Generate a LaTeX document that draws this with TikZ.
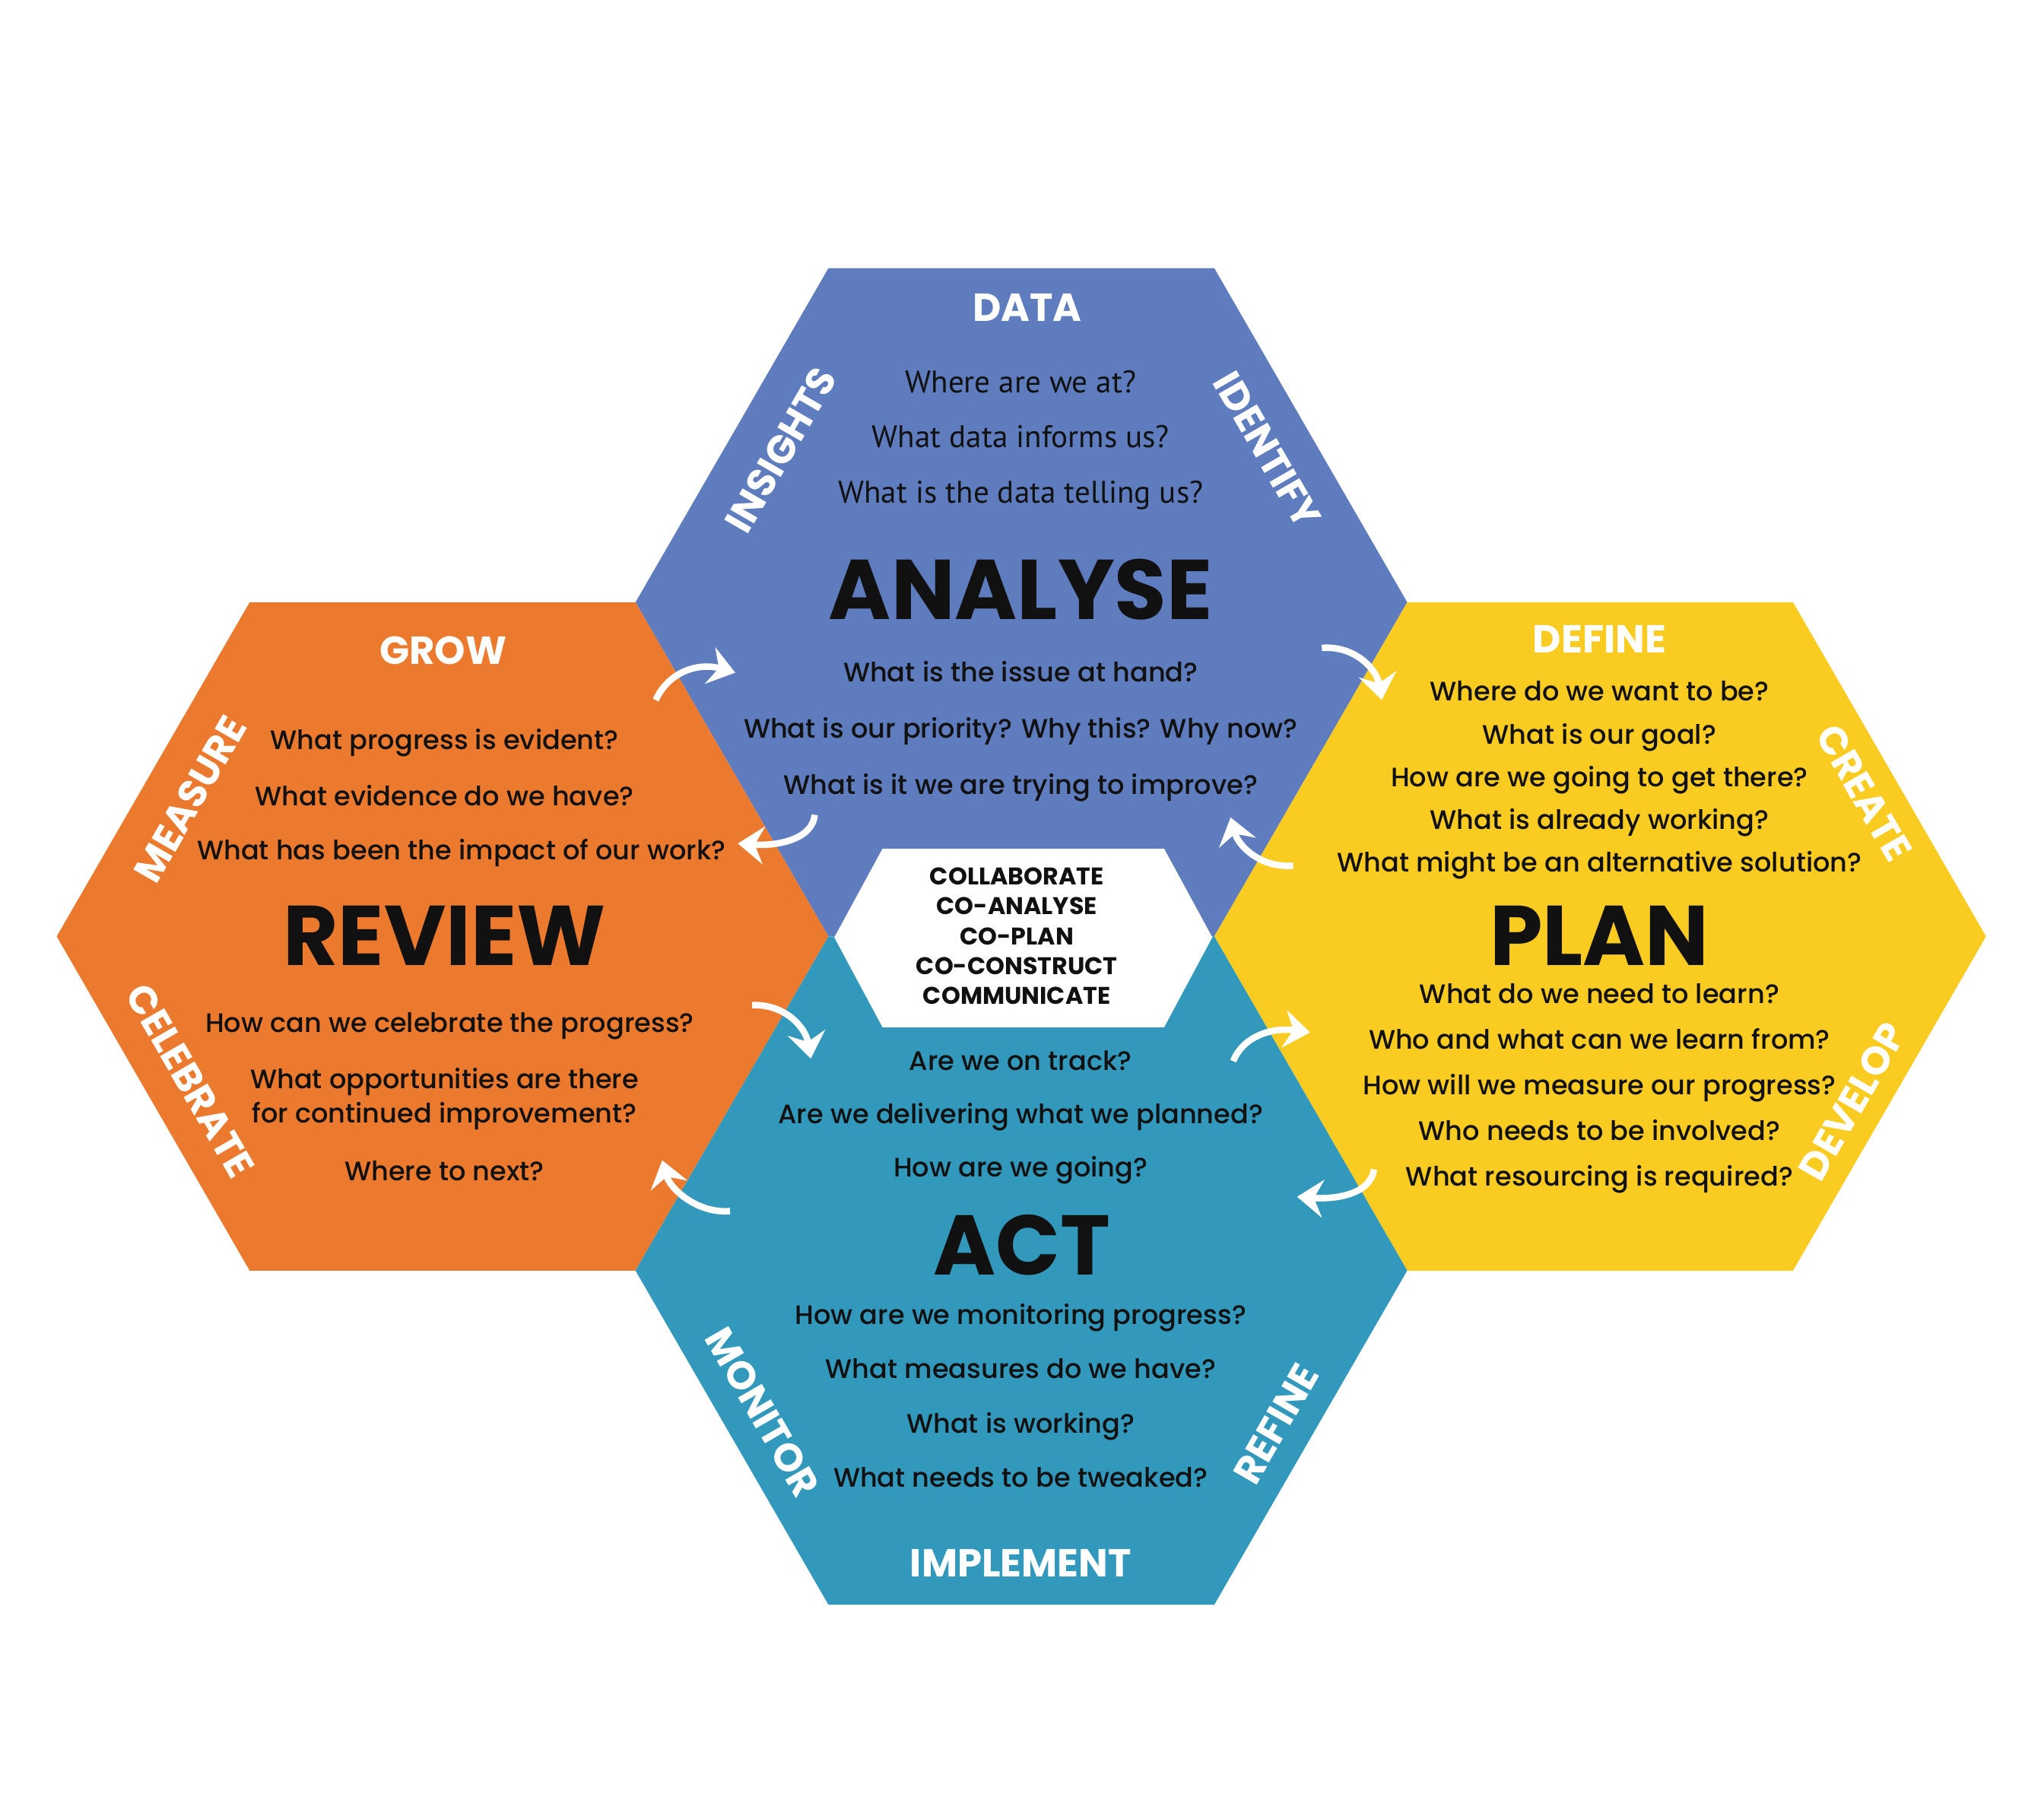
\documentclass[tikz,border=0pt]{standalone}
\usepackage{fontspec}
\setmainfont{Poppins}
\newfontfamily\medfont{Poppins Medium}
\newfontfamily\ptfont{PT Sans}
\usetikzlibrary{arrows.meta}
\definecolor{anablue}{RGB}{94,124,190}
\definecolor{revorange}{RGB}{236,122,46}
\definecolor{planyellow}{RGB}{250,203,33}
\definecolor{actteal}{RGB}{50,153,188}
\definecolor{ink}{RGB}{17,17,17}

\begin{document}
\begin{tikzpicture}[x=1pt,y=-1pt,
  ques/.style={font=\medfont\fontsize{20.5}{#1}\selectfont,text=ink,align=center,inner sep=0pt},
  ques/.default=43,
  tag/.style={font=\bfseries\fontsize{30}{30}\selectfont,text=white,inner sep=0pt},
  title/.style={font=\bfseries\fontsize{65}{65}\selectfont,text=ink,inner sep=0pt},
  hub/.style={font=\bfseries\fontsize{18.5}{23}\selectfont,text=ink,align=center,inner sep=0pt},
  flow/.style={draw=white,line width=5pt,-{Stealth[length=20pt,width=29pt,inset=7pt]}}]
  \fill[white] (0,0) rectangle (1568,1378);
  % the four hexagons
  \foreach \hx/\hy/\hc in {783.5/462/anablue, 339.5/718.3/revorange,
                           1227.5/718.3/planyellow, 783.5/974.6/actteal}
    \fill[\hc] (\hx,\hy) +(-148,-256.3) -- +(148,-256.3) -- +(296,0)
      -- +(148,256.3) -- +(-148,256.3) -- +(-296,0) -- cycle;
  \fill[white] (640,719) -- (677,651) -- (893,651) -- (930,719)
    -- (893,788) -- (677,788) -- cycle;
  \node[hub] (hub) at (780,718) {COLLABORATE\\CO-ANALYSE\\CO-PLAN\\CO-CONSTRUCT\\COMMUNICATE};

  % analyse
  \node[tag] (data) at (788,236) {DATA};
  \node[tag,rotate=60] (insights) at (599,345) {INSIGHTS};
  \node[tag,rotate=-60] (identify) at (972,345) {IDENTIFY};
  \node[ques,font=\ptfont\fontsize{24}{42.5}\selectfont] (anaq1) at (783,337.5)
    {Where are we at?\\What data informs us?\\What is the data telling us?};
  \node[title] (analyse) at (783,452) {ANALYSE};
  \node[ques] (anaq2) at (783,561)
    {What is the issue at hand?\\What is our priority? Why this? Why now?\\What is it we are trying to improve?};

  % review
  \node[tag] (grow) at (340,499) {GROW};
  \node[tag,rotate=60] (measure) at (146,613) {MEASURE};
  \node[ques] (revq1) at (341,588.5) {What progress is evident?\\What evidence do we have?};
  \node[ques] (revq2) at (354,654) {What has been the impact of our work?};
  \node[title] (review) at (341,718) {REVIEW};
  \node[tag,rotate=-60] (celebrate) at (146,829) {CELEBRATE};
  \node[ques] (revq3) at (345,787) {How can we celebrate the progress?};
  \node[ques=26] (revq4) at (341,843) {What opportunities are there\\for continued improvement?};
  \node[ques] (revq5) at (341,898) {Where to next?};

  % plan
  \node[tag] (define) at (1227,490) {DEFINE};
  \node[ques=32.75] (planq1) at (1227,598.5)
    {Where do we want to be?\\What is our goal?\\How are we going to get there?\\What is already working?\\What might be an alternative solution?};
  \node[tag,rotate=-60] (create) at (1430,608) {CREATE};
  \node[title] (plan) at (1227,718) {PLAN};
  \node[ques=35] (planq2) at (1227,835)
    {What do we need to learn?\\Who and what can we learn from?\\How will we measure our progress?\\Who needs to be involved?\\What resourcing is required?};
  \node[tag,rotate=60] (develop) at (1421,845) {DEVELOP};

  % act
  \node[ques=41] (actq1) at (783,857)
    {Are we on track?\\Are we delivering what we planned?\\How are we going?};
  \node[title] (act) at (784,955) {ACT};
  \node[ques=41.7] (actq2) at (783,1070.5)
    {How are we monitoring progress?\\What measures do we have?\\What is working?\\What needs to be tweaked?};
  \node[tag,rotate=-60] (monitor) at (585,1083) {MONITOR};
  \node[tag,rotate=60] (refine) at (979,1092) {REFINE};
  \node[tag] (implement) at (783,1199) {IMPLEMENT};

  % cycle arrows
  \coordinate (ra0) at (503,537);  \coordinate (ra1) at (564,516);
  \coordinate (ap0) at (1014,497); \coordinate (ap1) at (1060,537);
  \coordinate (pa0) at (992,664);  \coordinate (pa1) at (944,627);
  \coordinate (ar0) at (625,625);  \coordinate (ar1) at (566,647);
  \coordinate (rc0) at (577,771);  \coordinate (rc1) at (622,812);
  \coordinate (cp0) at (946,814);  \coordinate (cp1) at (1005,792);
  \coordinate (pc0) at (1054,897); \coordinate (pc1) at (995,918);
  \coordinate (cr0) at (560,929);  \coordinate (cr1) at (508,890);
  \draw[flow] (ra0) .. controls +(10,-22) and +(-28,-8) .. (ra1);
  \draw[flow] (ap0) .. controls +(25,-2) and +(-4,-24) .. (ap1);
  \draw[flow] (pa0) .. controls +(-25,2) and +(6,22) .. (pa1);
  \draw[flow] (ar0) .. controls +(-2,20) and +(28,2) .. (ar1);
  \draw[flow] (rc0) .. controls +(25,-1) and +(-4,-24) .. (rc1);
  \draw[flow] (cp0) .. controls +(8,-20) and +(-28,-4) .. (cp1);
  \draw[flow] (pc0) .. controls +(-3,20) and +(28,2) .. (pc1);
  \draw[flow] (cr0) .. controls +(-25,2) and +(6,22) .. (cr1);
\end{tikzpicture}
\end{document}
